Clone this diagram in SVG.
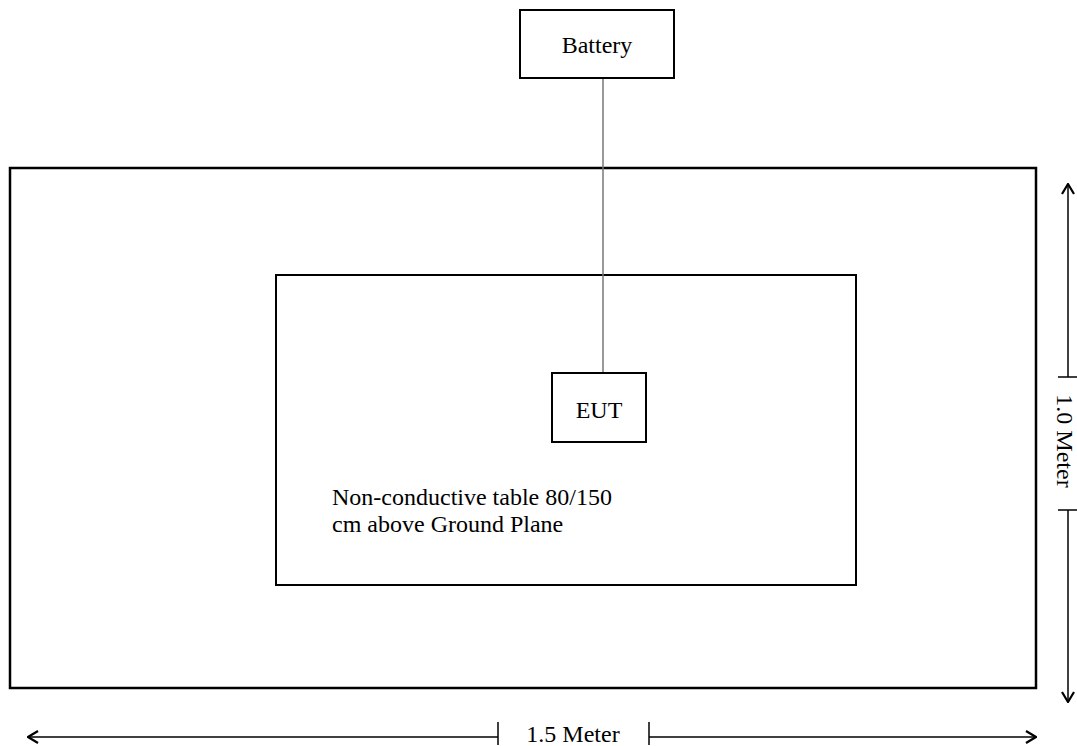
<svg xmlns="http://www.w3.org/2000/svg" width="1077" height="746" viewBox="0 0 1077 746">
<style>
.box{fill:#fff;stroke:#000;stroke-width:2}
.t{font-family:"Liberation Serif",serif;font-size:24px;fill:#000}
.d{font-family:"Liberation Serif",serif;font-size:24px;fill:#000}
.dim{stroke:#000;stroke-width:1.5;fill:none}
</style>
<defs>
<marker id="ah" viewBox="0 0 12 14" refX="11" refY="7" markerWidth="12" markerHeight="14" markerUnits="userSpaceOnUse" orient="auto-start-reverse">
<path d="M1,1 L11,7 L1,13" fill="none" stroke="#000" stroke-width="2.2"/>
</marker>
</defs>
<rect width="1077" height="746" fill="#fff"/>
<g id="ground-plane"><rect x="10" y="168" width="1026" height="520" fill="none" stroke="#000" stroke-width="2.5"/></g>
<g id="table">
<rect class="box" x="276" y="275" width="580" height="310"/>
<text class="t" x="332" y="505">Non-conductive table 80/150</text>
<text class="t" x="332" y="532">cm above Ground Plane</text>
</g>
<g id="connectors">
<line x1="603" y1="78" x2="603" y2="373" stroke="#777" stroke-width="1.5"/>
</g>
<g id="battery">
<rect class="box" x="520" y="10" width="154" height="68"/>
<text class="t" x="597" y="53" text-anchor="middle">Battery</text>
</g>
<g id="eut">
<rect class="box" x="552" y="373" width="94" height="69"/>
<text class="t" x="599" y="418" text-anchor="middle">EUT</text>
</g>
<g id="dim-vertical">
<line class="dim" x1="1068" y1="377" x2="1068" y2="184" marker-end="url(#ah)"/>
<line class="dim" x1="1068" y1="510" x2="1068" y2="702" marker-end="url(#ah)"/>
<line class="dim" x1="1058" y1="377" x2="1077" y2="377"/>
<line class="dim" x1="1058" y1="510" x2="1077" y2="510"/>
<text class="d" transform="translate(1057,441) rotate(90)" text-anchor="middle">1.0 Meter</text>
</g>
<g id="dim-horizontal">
<line class="dim" x1="498" y1="737" x2="28" y2="737" marker-end="url(#ah)"/>
<line class="dim" x1="649" y1="737" x2="1036" y2="737" marker-end="url(#ah)"/>
<line class="dim" x1="498" y1="722" x2="498" y2="745"/>
<line class="dim" x1="649" y1="722" x2="649" y2="745"/>
<text class="d" x="573" y="742" text-anchor="middle">1.5 Meter</text>
</g>
</svg>
